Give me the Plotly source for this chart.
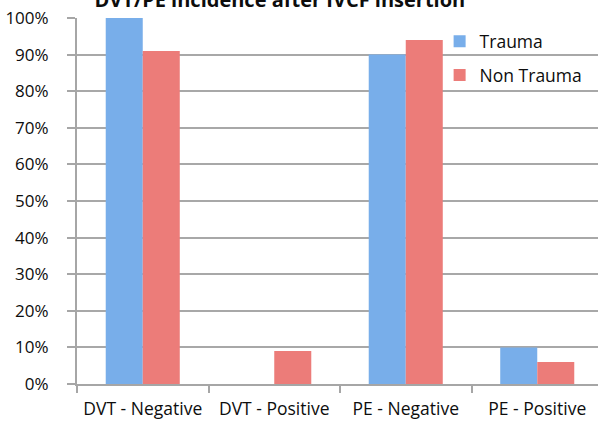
import plotly.graph_objects as go

categories = ["DVT - Negative", "DVT - Positive", "PE - Negative", "PE - Positive"]
trauma = [100, 0, 90, 10]
non_trauma = [91, 9, 94, 6]
series_names = ["Trauma", "Non Trauma"]
y_ticks = [0, 10, 20, 30, 40, 50, 60, 70, 80, 90, 100]
y_tick_labels = [f"{v}%" for v in y_ticks]
title_text = "DVT/PE incidence after IVCF insertion"

FONT = "Open Sans"
TXT = "#0d0d0d"
fig = go.Figure()
fig.add_trace(go.Bar(
    x=categories, y=trauma, name=series_names[0], legendgroup="a",
    marker=dict(color="#78aeea", line=dict(width=0)),
))
fig.add_trace(go.Bar(
    x=categories, y=non_trauma, name=series_names[1], legendgroup="b",
    marker=dict(color="#ec7c79", line=dict(width=0)),
))

fig.update_layout(
    width=598, height=423,
    margin=dict(l=77, r=0, t=18, b=39, autoexpand=False),
    paper_bgcolor="white", plot_bgcolor="white",
    barmode="group", bargap=0.437, bargroupgap=0,
    font=dict(family=FONT, size=17, color=TXT),
    title=dict(
        text="<b>" + title_text + "</b>", x=0.468, xanchor="center",
        y=1.0, yanchor="middle", xref="container", yref="container",
        font=dict(size=20, color=TXT, family=FONT),
    ),
    legend=dict(
        x=0.696, y=0.985, xanchor="left", yanchor="top",
        bgcolor="rgba(0,0,0,0)", font=dict(size=17.5, color=TXT),
        tracegroupgap=8, itemwidth=30,
    ),
    xaxis=dict(
        type="category", range=[-0.5, 3.462], automargin=False,
        showgrid=False, showline=True, linecolor="#a6a6a6", linewidth=2,
        ticks="outside", tickson="boundaries", ticklen=7, tickcolor="#a6a6a6", tickwidth=1.5,
        ticklabelstandoff=8,
        tickfont=dict(size=17.5, color=TXT),
    ),
    yaxis=dict(
        range=[0, 100], tickvals=y_ticks, ticktext=y_tick_labels, automargin=False,
        showgrid=True, gridcolor="#a8a8a8", gridwidth=1.5,
        showline=True, linecolor="#a6a6a6", linewidth=2,
        ticks="outside", ticklen=8, tickcolor="#a6a6a6", tickwidth=1.5,
        ticklabelstandoff=15,
        zeroline=False,
        tickfont=dict(size=17, color=TXT),
    ),
)

fig.write_html(
    "out.html",
    config={"displayModeBar": False},
    post_script="document.body.style.margin='0';document.body.style.overflow='hidden';",
)
